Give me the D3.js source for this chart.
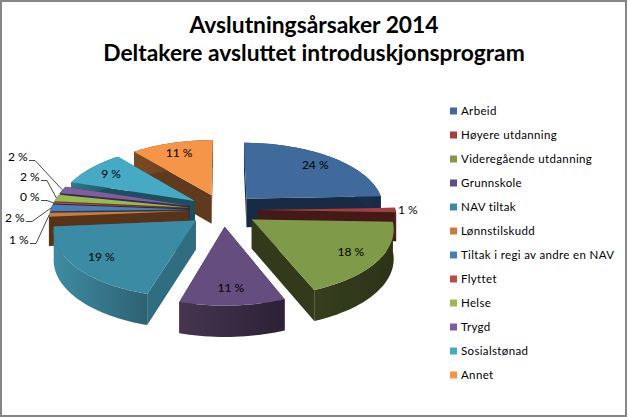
<!DOCTYPE html>
<html><head><meta charset="utf-8">
<script src="https://cdnjs.cloudflare.com/ajax/libs/d3/7.8.5/d3.min.js"></script>
<style>html,body{margin:0;padding:0;background:#fff}svg{display:block}</style>
</head><body><svg id="c" width="628" height="417"></svg>
<script>
const titleLines = ["Avslutningsårsaker 2014", "Deltakere avsluttet introduskjonsprogram"];
const categories = ["Arbeid","Høyere utdanning","Videregående utdanning","Grunnskole","NAV tiltak","Lønnstilskudd","Tiltak i regi av andre en NAV","Flyttet","Helse","Trygd","Sosialstønad","Annet"];
const shares = [24.4,1.1,18.4,10.6,19,1,1.7,0.3,1.7,1.7,9,11];
const topColors = ["#3f6a9b","#a33f3d","#7f9a48","#664d80","#3a8ba3","#cc7c3a","#4a7ebb","#be4b48","#98b954","#7d5fa0","#46aac4","#f4954a"];
const wallColors = ["#172b45","#431a18","#333a1c","#3a2b47","#306d80","#57331a","#1f3a5c","#4d1c1a","#3f4e20","#3a2a4e","#1d4f5c","#5f3a1c"];
const wallLight = ["#27476e","#6a2a28","#363e1e","#46354f","#3e8ca3","#6a4220","#2a4d78","#6a2a28","#55682c","#503a6c","#2f7a8e","#7a4a24"];
const wallDark = ["#172b45","#431a18","#2c3318","#2c2136","#2e6172","#57331a","#1f3a5c","#4d1c1a","#3f4e20","#3a2a4e","#1d4f5c","#5f3a1c"];

const W=628,H=417;
const svg=d3.select("#c");
svg.append("rect").attr("x",1).attr("y",1).attr("width",W-3).attr("height",H-2).attr("fill","#fff").attr("stroke","#868686").attr("stroke-width",2);
const defs=svg.append("defs");
const font="Lato, 'Open Sans', sans-serif";

const title=svg.append("text").attr("text-anchor","middle").attr("font-family",font).attr("font-weight",700).attr("font-size",22.8).attr("fill","#000");
titleLines.forEach((t,i)=>title.append("tspan").attr("x",314).attr("y",33+i*28).text(t));

// projection
const cx=223,cy=210,rx=138,ry=65,persp=0.12,explode=0.25,depth=29;
function proj(pu,pv,dz){const f=1/(1-persp*pv);return [cx+rx*pu*f, cy+ry*pv*f+(dz||0)*depth*Math.sqrt(f)];}
const pie=d3.pie().sort(null).startAngle(0).endAngle(2*Math.PI).padAngle(0).value(d=>d);
const arcs=pie(shares).map((a,i)=>({...a,i,mid:(a.startAngle+a.endAngle)/2}));
arcs.forEach(a=>{a.ou=Math.sin(a.mid)*explode;a.ov=-Math.cos(a.mid)*explode;});
const line=d3.line();
function rim(a,dz){const n=Math.max(2,Math.ceil((a.endAngle-a.startAngle)*30));return d3.range(n+1).map(k=>{const t=a.startAngle+(a.endAngle-a.startAngle)*k/n;return proj(a.ou+Math.sin(t),a.ov-Math.cos(t),dz);});}

const order=[...arcs].sort((p,q)=>(p.ov-q.ov));
const g=svg.append("g");
order.forEach(a=>{
  const top=rim(a,0),bot=rim(a,1),ap=proj(a.ou,a.ov,0),apB=proj(a.ou,a.ov,1);
  const col=wallColors[a.i];
  g.append("path").attr("d",line([ap,top[0],bot[0],apB])+"Z").attr("fill",col);
  g.append("path").attr("d",line([ap,top[top.length-1],bot[bot.length-1],apB])+"Z").attr("fill",col);
  const id="w"+a.i;
  const gr=defs.append("linearGradient").attr("id",id).attr("x1",0).attr("x2",1).attr("y1",0).attr("y2",0);
  gr.append("stop").attr("offset",0).attr("stop-color",wallLight[a.i]);
  gr.append("stop").attr("offset",1).attr("stop-color",wallDark[a.i]);
  g.append("path").attr("d",line(top.concat(bot.slice().reverse()))+"Z").attr("fill",`url(#${id})`);
  g.append("path").attr("d",line([ap].concat(top))+"Z").attr("fill",topColors[a.i]);
});

const pct=d=>d3.format(".0f")(d)+" %";
const inner=0.8;
const labelG=svg.append("g").attr("font-family",font).attr("font-size",12).attr("fill","#000");
// outside labels: index -> [label anchor x, centre y]
const outside={1:[398,210],5:[9,240],6:[5,218],7:[20,197],8:[20,177],9:[8,157]};
arcs.forEach(a=>{
  const o=outside[a.i];
  if(o){
    labelG.append("text").attr("x",o[0]).attr("y",o[1]+4).text(pct(a.value));
    if(a.i!==1){
      const e=proj(a.ou+Math.sin(a.mid)*1.0,a.ov-Math.cos(a.mid)*1.0,0);
      const sx=o[0]+21;
      labelG.append("path").attr("d",line([[sx,o[1]+3.5],[sx+6,o[1]+3.5],e])).attr("fill","none").attr("stroke","#1a1a1a").attr("stroke-width",.8);
    }
  } else {
    const p=proj(a.ou+Math.sin(a.mid)*inner,a.ov-Math.cos(a.mid)*inner,0);
    labelG.append("text").attr("x",p[0]).attr("y",p[1]+4).attr("text-anchor","middle").text(pct(a.value));
  }
});

const legend=svg.append("g").attr("font-family",font).attr("font-size",11.5).attr("fill","#000");
const ly=d3.scalePoint().domain(categories).range([111,375]);
categories.forEach((c,i)=>{
  legend.append("rect").attr("x",450).attr("y",ly(c)-3.5).attr("width",7).attr("height",7).attr("fill",topColors[i]);
  legend.append("text").attr("x",461).attr("y",ly(c)+4).attr("letter-spacing",0.35).text(c);
});
</script></body></html>
